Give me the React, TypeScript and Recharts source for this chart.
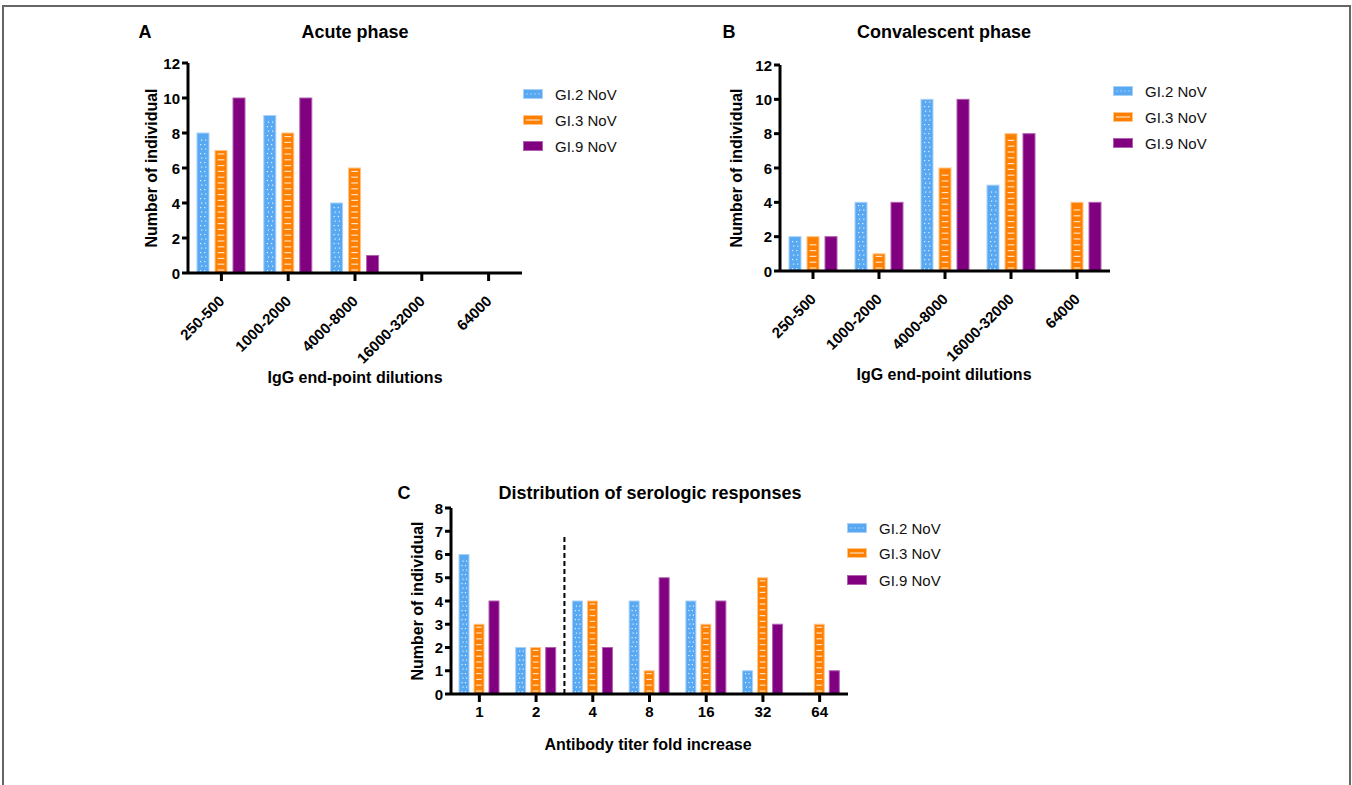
import React from "react";
import { BarChart, Bar, XAxis, YAxis, ReferenceLine } from "recharts";

const FONT = "Arial, 'Liberation Sans', Helvetica, sans-serif";

const seriesNames = ["GI.2 NoV", "GI.3 NoV", "GI.9 NoV"];
const seriesColors = ["#58a8f2", "#ff8000", "#800080"];
const seriesEdges = ["#a9d1f8", "#ffc48a", "#b060b0"];

// A / B: IgG end-point dilutions
const dilutions = ["250-500", "1000-2000", "4000-8000", "16000-32000", "64000"];
const acuteGI2 = [8, 9, 4, 0, 0];
const acuteGI3 = [7, 8, 6, 0, 0];
const acuteGI9 = [10, 10, 1, 0, 0];
const convGI2 = [2, 4, 10, 5, 0];
const convGI3 = [2, 1, 6, 8, 4];
const convGI9 = [2, 4, 10, 8, 4];

// C: fold increase
const folds = ["1", "2", "4", "8", "16", "32", "64"];
const foldGI2 = [6, 2, 4, 4, 4, 1, 0];
const foldGI3 = [3, 2, 4, 1, 3, 5, 3];
const foldGI9 = [4, 2, 2, 5, 4, 3, 1];

const ticks12 = [0, 2, 4, 6, 8, 10, 12];
const ticks8 = [0, 1, 2, 3, 4, 5, 6, 7, 8];

// dashed separator at the start of the "4" band
const dividerCat = "4";
const dividerTop = 6.8;

function toRows(cats: string[], a: number[], b: number[], c: number[]) {
  return cats.map((cat, i) => ({ cat, gi2: a[i], gi3: b[i], gi9: c[i] }));
}

function DottedBar(props: any) {
  const { x, y, width, height } = props;
  if (!height || height <= 0) return null;
  const dots: React.ReactNode[] = [];
  let k = 0;
  for (let yy = y + height - 3; yy > y + 2; yy -= 4.5) {
    const shift = k % 2 === 0 ? 0 : 1;
    dots.push(
      <rect key={"a" + k} x={x + width * 0.3 - 0.6 + shift} y={yy} width={1.2} height={1.2} fill="#e3f1ff" />,
      <rect key={"b" + k} x={x + width * 0.65 - 0.6 + shift} y={yy} width={1.2} height={1.2} fill="#e3f1ff" />
    );
    k++;
  }
  return (
    <g>
      <rect x={x} y={y} width={width} height={height} fill={seriesColors[0]} stroke={seriesEdges[0]} strokeWidth={1} />
      {dots}
    </g>
  );
}

function DashedBar(props: any) {
  const { x, y, width, height } = props;
  if (!height || height <= 0) return null;
  const lines: React.ReactNode[] = [];
  let k = 0;
  for (let yy = y + height - 3; yy > y + 2.5; yy -= 5.8) {
    lines.push(
      <line key={k} x1={x + width * 0.22} x2={x + width * 0.78} y1={yy} y2={yy} stroke="#ffe0c0" strokeWidth={1.2} />
    );
    k++;
  }
  return (
    <g>
      <rect x={x} y={y} width={width} height={height} fill={seriesColors[1]} stroke={seriesEdges[1]} strokeWidth={1} />
      {lines}
    </g>
  );
}

function SolidBar(props: any) {
  const { x, y, width, height } = props;
  if (!height || height <= 0) return null;
  return <rect x={x} y={y} width={width} height={height} fill={seriesColors[2]} stroke={seriesEdges[2]} strokeWidth={1} />;
}

function SlantTick(props: any) {
  const { x, y, payload } = props;
  return (
    <g transform={`translate(${x + 4},${y + 19})`}>
      <text textAnchor="end" transform="rotate(-45)" fontSize={15} fontWeight={700} fontFamily={FONT} fill="#000">
        {payload.value}
      </text>
    </g>
  );
}

function FlatTick(props: any) {
  const { x, y, payload } = props;
  return (
    <text x={x} y={y + 13} textAnchor="middle" fontSize={15} fontWeight={700} fontFamily={FONT} fill="#000">
      {payload.value}
    </text>
  );
}

function LeftTick(props: any) {
  const { x, y, payload } = props;
  return (
    <text x={x} y={y + 5.5} textAnchor="end" fontSize={15} fontWeight={700} fontFamily={FONT} fill="#000">
      {payload.value}
    </text>
  );
}

type Plot = { left: number; right: number; top: number; bottom: number };

function Panel(props: {
  rows: any[];
  plot: Plot;
  yMax: number;
  yTicks: number[];
  barSize: number;
  barGap: number;
  slanted?: boolean;
  divider?: boolean;
}) {
  const { rows, plot, yMax, yTicks, barSize, barGap, slanted, divider } = props;
  const padL = 70, padT = 10, padR = 10, padB = 110;
  const yW = 60, xH = 100;
  const width = plot.right - plot.left + padL + padR;
  const height = plot.bottom - plot.top + padT + padB;
  const axisStyle = { stroke: "#000", strokeWidth: 3 };
  return (
    <div style={{ position: "absolute", left: plot.left - padL, top: plot.top - padT }}>
      <BarChart
        width={width}
        height={height}
        data={rows}
        barGap={barGap}
        margin={{ top: padT, right: padR, left: padL - yW, bottom: padB - xH }}
      >
        <XAxis
          dataKey="cat"
          interval={0}
          height={xH}
          tickSize={8}
          tickMargin={2}
          axisLine={axisStyle}
          tickLine={axisStyle}
          tick={slanted ? <SlantTick /> : <FlatTick />}
        />
        <YAxis
          domain={[0, yMax]}
          ticks={yTicks}
          interval={0}
          width={yW}
          tickSize={6}
          tickMargin={2}
          axisLine={axisStyle}
          tickLine={axisStyle}
          tick={<LeftTick />}
        />
        {divider && (
          <ReferenceLine
            segment={[
              { x: dividerCat, y: 0 },
              { x: dividerCat, y: dividerTop },
            ]}
            position="start"
            stroke="#000"
            strokeWidth={2}
            strokeDasharray="5 3"
          />
        )}
        <Bar dataKey="gi2" name={seriesNames[0]} barSize={barSize} shape={<DottedBar />} isAnimationActive={false} />
        <Bar dataKey="gi3" name={seriesNames[1]} barSize={barSize} shape={<DashedBar />} isAnimationActive={false} />
        <Bar dataKey="gi9" name={seriesNames[2]} barSize={barSize} shape={<SolidBar />} isAnimationActive={false} />
      </BarChart>
    </div>
  );
}

function Swatch({ i }: { i: number }) {
  return (
    <svg width={20} height={10} style={{ display: "block" }}>
      <rect x={0.5} y={0.5} width={19} height={9} fill={seriesColors[i]} stroke={seriesEdges[i]} strokeWidth={1} />
      {i === 0 && [4, 8, 12, 16].map((d) => <rect key={d} x={d - 0.5} y={4.5} width={1} height={1} fill="#e3f1ff" />)}
      {i === 1 && <line x1={3} x2={17} y1={5} y2={5} stroke="#ffe0c0" strokeWidth={1.2} />}
    </svg>
  );
}

function Legend({ x, ys }: { x: number; ys: number[] }) {
  return (
    <>
      {seriesNames.map((name, i) => (
        <div
          key={name}
          style={{
            position: "absolute",
            left: x,
            top: ys[i] - 10,
            height: 20,
            display: "flex",
            alignItems: "center",
            gap: 12,
            fontFamily: FONT,
            fontSize: 15,
            color: "#111",
            whiteSpace: "nowrap",
          }}
        >
          <Swatch i={i} />
          <span>{name}</span>
        </div>
      ))}
    </>
  );
}

function Txt(props: { x: number; y: number; size: number; rotate?: boolean; children: React.ReactNode }) {
  const { x, y, size, rotate, children } = props;
  return (
    <div
      style={{
        position: "absolute",
        left: x,
        top: y,
        transform: `translate(-50%, -50%)${rotate ? " rotate(-90deg)" : ""}`,
        fontFamily: FONT,
        fontWeight: 700,
        fontSize: size,
        color: "#000",
        whiteSpace: "nowrap",
        lineHeight: 1,
      }}
    >
      {children}
    </div>
  );
}

export default function App() {
  const acuteRows = toRows(dilutions, acuteGI2, acuteGI3, acuteGI9);
  const convRows = toRows(dilutions, convGI2, convGI3, convGI9);
  const foldRows = toRows(folds, foldGI2, foldGI3, foldGI9);

  return (
    <div style={{ position: "absolute", left: 0, top: 0, width: 1352, height: 785, overflow: "hidden", background: "#fff" }}>
      <div style={{ position: "absolute", left: 2, top: 5, width: 1345, height: 800, border: "2px solid #666" }} />

      <Txt x={145} y={32} size={18}>A</Txt>
      <Txt x={355} y={32} size={18}>Acute phase</Txt>
      <Txt x={152} y={168} size={16} rotate>Number of individual</Txt>
      <Panel rows={acuteRows} plot={{ left: 188, right: 522, top: 63, bottom: 273 }} yMax={12} yTicks={ticks12} barSize={12} barGap={6} slanted />
      <Txt x={355} y={378} size={16}>IgG end-point dilutions</Txt>
      <Legend x={523} ys={[94, 120, 146]} />

      <Txt x={729} y={32} size={18}>B</Txt>
      <Txt x={944} y={32} size={18}>Convalescent phase</Txt>
      <Txt x={737} y={168} size={16} rotate>Number of individual</Txt>
      <Panel rows={convRows} plot={{ left: 780, right: 1110, top: 65, bottom: 271 }} yMax={12} yTicks={ticks12} barSize={12} barGap={6} slanted />
      <Txt x={944} y={375} size={16}>IgG end-point dilutions</Txt>
      <Legend x={1113} ys={[91, 117, 143]} />

      <Txt x={404} y={493} size={18}>C</Txt>
      <Txt x={650} y={493} size={18}>Distribution of serologic responses</Txt>
      <Txt x={418} y={601} size={16} rotate>Number of individual</Txt>
      <Panel rows={foldRows} plot={{ left: 451, right: 848, top: 508, bottom: 694 }} yMax={8} yTicks={ticks8} barSize={10} barGap={5} divider />
      <Txt x={648} y={745} size={16}>Antibody titer fold increase</Txt>
      <Legend x={847} ys={[528, 553, 580]} />
    </div>
  );
}
